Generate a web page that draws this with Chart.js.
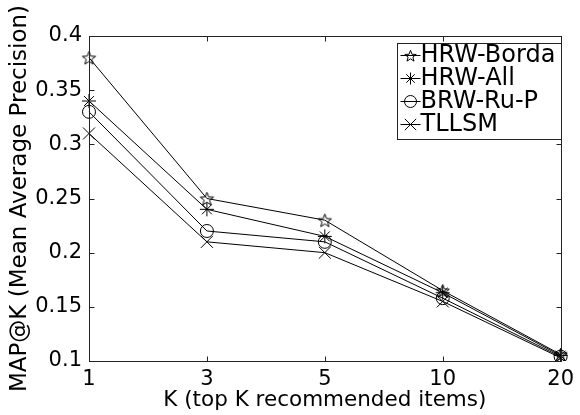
<!DOCTYPE html>
<html lang="en">
  <head>
    <meta charset="UTF-8" />
    <title>MAP@K</title>
    <script src="https://cdn.jsdelivr.net/npm/chart.js@4/dist/chart.umd.min.js"></script>
    <style>
      body { margin: 0; background: #fff; }
      #wrap { width: 580px; height: 415px; }
    </style>
  </head>
  <body>
    <div id="wrap"><canvas id="chart"></canvas></div>
    <script>
      var kLabels = ['1', '3', '5', '10', '20'];
      var seriesNames = ['HRW-Borda', 'HRW-All', 'BRW-Ru-P', 'TLLSM'];
      var hrwBorda = [0.38, 0.25, 0.23, 0.165, 0.106];
      var hrwAll = [0.34, 0.24, 0.215, 0.163, 0.105];
      var brwRuP = [0.33, 0.22, 0.21, 0.158, 0.104];
      var tllsm = [0.31, 0.21, 0.20, 0.155, 0.103];

      var FONT = '"DejaVu Sans", sans-serif';

      // five-pointed star outline, MATLAB 'p' marker
      function starCanvas(r) {
        var s = Math.ceil(r * 2 + 3);
        var c = document.createElement('canvas');
        c.width = s; c.height = s;
        var g = c.getContext('2d');
        g.strokeStyle = '#000';
        g.lineWidth = 1;
        g.beginPath();
        for (var i = 0; i < 10; i++) {
          var rr = i % 2 === 0 ? r : r * 0.42;
          var a = -Math.PI / 2 + i * Math.PI / 5;
          var x = s / 2 + rr * Math.cos(a), y = s / 2 + 0.8 + rr * Math.sin(a);
          if (i === 0) g.moveTo(x, y); else g.lineTo(x, y);
        }
        g.closePath();
        g.stroke();
        return c;
      }
      var starImg = starCanvas(7);
      var starSmall = starCanvas(6);

      var styles = [
        { pointStyle: starImg, radius: 7 },
        { pointStyle: 'star', radius: 7 },
        { pointStyle: 'circle', radius: 6.5 },
        { pointStyle: 'crossRot', radius: 8.5 }
      ];
      var legendStyles = [
        { pointStyle: starSmall, radius: 6 },
        { pointStyle: 'star', radius: 6 },
        { pointStyle: 'circle', radius: 6 },
        { pointStyle: 'crossRot', radius: 8 }
      ];

      function makeSet(name, values, i) {
        return {
          label: name,
          data: values,
          borderColor: '#000',
          borderWidth: 1,
          backgroundColor: 'rgba(0,0,0,0)',
          pointStyle: styles[i].pointStyle,
          pointRadius: styles[i].radius,
          pointBorderColor: '#000',
          pointBorderWidth: 1,
          pointBackgroundColor: 'rgba(0,0,0,0)',
          tension: 0
        };
      }

      var frame = {
        id: 'frame',
        afterDraw: function (chart) {
          var ctx = chart.ctx, a = chart.chartArea;
          var L = Math.round(a.left) + 0.5, R = Math.round(a.right) + 0.5;
          var T = Math.round(a.top) + 0.5, B = Math.round(a.bottom) + 0.5;
          ctx.save();
          ctx.strokeStyle = '#222';
          ctx.lineWidth = 1;
          ctx.strokeRect(L, T, R - L, B - T);
          var xs = chart.scales.x, ys = chart.scales.y, t = 5;
          ctx.beginPath();
          xs.ticks.forEach(function (tk, i) {
            var px = Math.round(xs.getPixelForTick(i)) + 0.5;
            ctx.moveTo(px, B); ctx.lineTo(px, B - t);
            ctx.moveTo(px, T); ctx.lineTo(px, T + t);
          });
          ys.ticks.forEach(function (tk, i) {
            var py = Math.round(ys.getPixelForTick(i)) + 0.5;
            ctx.moveTo(L, py); ctx.lineTo(L + t, py);
            ctx.moveTo(R, py); ctx.lineTo(R - t, py);
          });
          ctx.stroke();

          // legend box inside the axes
          var bx = 397.5, by = 43.5, bw = 164, bh = 96;
          ctx.fillStyle = '#fff';
          ctx.fillRect(bx, by, bw, bh);
          ctx.strokeStyle = '#222';
          ctx.strokeRect(bx, by, bw, bh);
          ctx.strokeStyle = '#000';
          chart.data.datasets.forEach(function (ds, i) {
            var cy = 55 + i * 23;
            ctx.beginPath();
            ctx.moveTo(bx + 3, cy + 0.5); ctx.lineTo(bx + 23, cy + 0.5);
            ctx.stroke();
            ctx.fillStyle = 'rgba(0,0,0,0)';
            Chart.helpers.drawPoint(ctx, {
              pointStyle: legendStyles[i].pointStyle,
              radius: legendStyles[i].radius,
              borderWidth: 1
            }, bx + 13, cy + 0.5);
            ctx.fillStyle = '#000';
            ctx.font = '24px ' + FONT;
            ctx.textBaseline = 'middle';
            ctx.textAlign = 'left';
            ctx.fillText(ds.label, bx + 23, cy + 1);
          });
          ctx.restore();
        }
      };

      new Chart(document.getElementById('chart'), {
        type: 'line',
        data: {
          labels: kLabels,
          datasets: [
            makeSet(seriesNames[0], hrwBorda, 0),
            makeSet(seriesNames[1], hrwAll, 1),
            makeSet(seriesNames[2], brwRuP, 2),
            makeSet(seriesNames[3], tllsm, 3)
          ]
        },
        options: {
          responsive: true,
          maintainAspectRatio: false,
          animation: false,
          layout: { padding: { top: 36, right: 14, left: 0, bottom: 0 } },
          plugins: { legend: { display: false }, tooltip: { enabled: false } },
          scales: {
            x: {
              offset: false,
              grid: { display: false, drawTicks: false },
              border: { display: false },
              ticks: { color: '#000', font: { size: 21, family: FONT }, padding: 6, maxRotation: 0 },
              title: { display: true, text: 'K (top K recommended items)', color: '#000',
                       font: { size: 21.5, family: FONT }, padding: { top: 0, bottom: 2 } },
              afterFit: function (s) { s.height = 54; }
            },
            y: {
              min: 0.1,
              max: 0.4,
              grid: { display: false, drawTicks: false },
              border: { display: false },
              ticks: {
                stepSize: 0.05, color: '#000', font: { size: 21, family: FONT }, padding: 7,
                callback: function (v) { return String(Number(v.toFixed(2))); }
              },
              title: { display: true, text: 'MAP@K (Mean Average Precision)', color: '#000',
                       font: { size: 23, family: FONT }, padding: { top: 6, bottom: 0 } },
              afterFit: function (s) { s.width = 89; }
            }
          }
        },
        plugins: [frame]
      });
    </script>
  </body>
</html>
